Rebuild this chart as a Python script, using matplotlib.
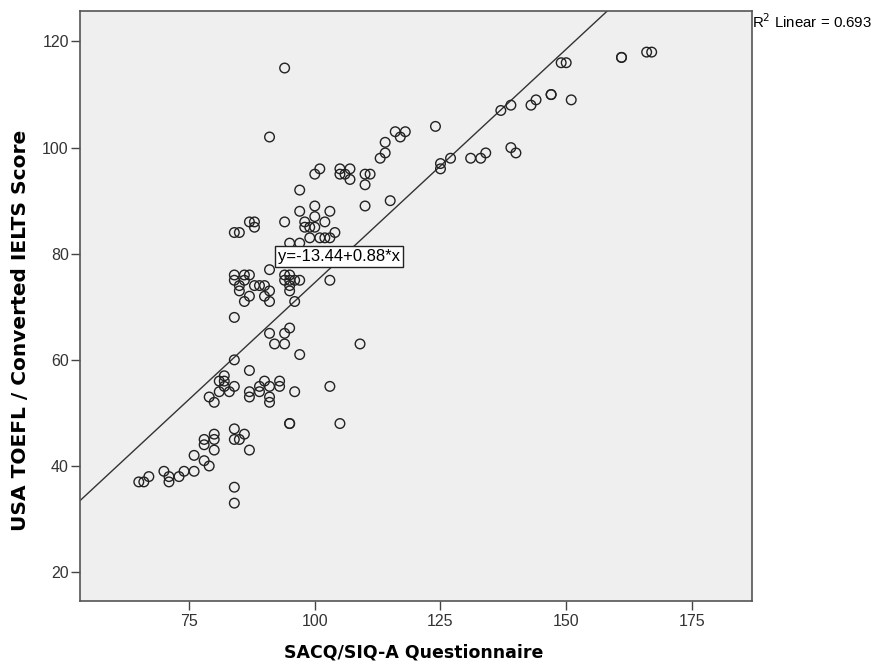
import matplotlib
matplotlib.use("Agg")
import matplotlib.pyplot as plt
import numpy as np

plt.rcParams['font.family'] = ['Liberation Sans', 'DejaVu Sans']

# SACQ/SIQ-A score (x) and TOEFL/IELTS score (y)
sacq = [65, 66, 67, 70, 71, 71, 73, 74, 76, 76, 78, 79,
        78, 78, 80, 80, 80, 84, 85, 86, 87, 84, 84, 84,
        82, 82, 81, 82, 84, 81, 83, 79, 80, 87, 87, 89, 89, 90, 91, 91, 91,
        93, 93, 96, 103, 95, 95, 105, 84, 97, 87,
        84, 95, 94, 91, 92, 94, 109,
        84, 86, 87, 84, 86, 85, 88, 89, 90, 91, 85, 87, 90, 86, 91,
        94, 95, 94, 95, 96, 97, 95, 95, 103, 96, 91,
        84, 85, 87, 88, 88, 94, 98, 99, 100, 98, 102, 104, 99, 101, 102, 103,
        95, 97, 100, 97, 103, 110, 115, 100, 97,
        94, 91, 124, 116, 118, 117, 114, 114, 113, 125, 127, 125,
        101, 100, 105, 107, 105, 106, 107, 110, 111, 110,
        166, 167, 161, 161, 149, 150, 147, 147, 151, 143, 144, 137, 139,
        139, 140, 131, 133, 134]
toefl = [37, 37, 38, 39, 38, 37, 38, 39, 39, 42, 41, 40,
         45, 44, 46, 45, 43, 45, 45, 46, 43, 47, 36, 33,
         57, 56, 56, 55, 55, 54, 54, 53, 52, 54, 53, 55, 54, 56, 55, 53, 52,
         56, 55, 54, 55, 48, 48, 48, 60, 61, 58,
         68, 66, 65, 65, 63, 63, 63,
         76, 76, 76, 75, 75, 74, 74, 74, 74, 73, 73, 72, 72, 71, 71,
         76, 76, 75, 75, 75, 75, 74, 73, 75, 71, 77,
         84, 84, 86, 86, 85, 86, 86, 85, 85, 85, 86, 84, 83, 83, 83, 83,
         82, 82, 89, 88, 88, 89, 90, 87, 92,
         115, 102, 104, 103, 103, 102, 101, 99, 98, 97, 98, 96,
         96, 95, 96, 96, 95, 95, 94, 95, 95, 93,
         118, 118, 117, 117, 116, 116, 110, 110, 109, 108, 109, 107, 108,
         100, 99, 98, 98, 99]

intercept = -13.44
slope = 0.88
r2 = 0.693

fig = plt.figure(figsize=(8.73, 6.62), dpi=100)
ax = fig.add_axes([0.0916, 0.0917, 0.7695, 0.8913])
ax.set_facecolor('#efefef')

ax.scatter(sacq, toefl, s=48, facecolors='none', edgecolors='#222222', linewidths=1.0, zorder=3)

xlim = (53.3, 186.9)
ylim = (14.5, 125.7)
xs = np.array(xlim)
ax.plot(xs, intercept + slope * xs, color='#333333', lw=1.0, zorder=2)
ax.set_xlim(xlim)
ax.set_ylim(ylim)

ax.set_xticks([75, 100, 125, 150, 175])
ax.set_yticks([20, 40, 60, 80, 100, 120])
ax.tick_params(direction='out', length=6.5, width=1, color='#444444', labelsize=11.5, labelcolor='#333333')
ax.tick_params(axis='y', pad=1.5)
ax.tick_params(axis='x', pad=3)
for s in ax.spines.values():
    s.set_color('#555555')
    s.set_linewidth(1.2)

ax.set_xlabel('SACQ/SIQ-A Questionnaire', fontsize=12.5, fontweight='bold', family='DejaVu Sans')
ax.set_ylabel('USA TOEFL / Converted IELTS Score', fontsize=14.5, fontweight='bold', family='DejaVu Sans')
ax.xaxis.label.set_va('center')
ax.yaxis.label.set_va('center')
ax.xaxis.set_label_coords(0.497, -0.0876)
ax.yaxis.set_label_coords(-0.089, 0.46)

ax.text(92.7, 79.5, 'y=-13.44+0.88*x', fontsize=12, va='center', ha='left', zorder=4,
        bbox=dict(boxstyle='square,pad=0.2', facecolor='white', edgecolor='#222222', lw=1))

fig.text(752 / 873, 1 - 22 / 662, 'R$^2$ Linear = %.3f' % r2, fontsize=10.8, va='center', ha='left')

fig.savefig('out.png', dpi=100)
